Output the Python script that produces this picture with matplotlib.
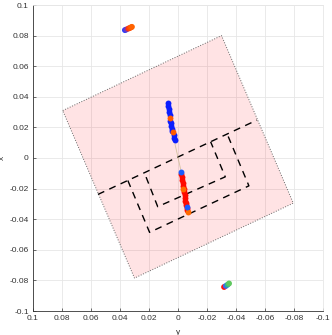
import matplotlib
matplotlib.use("Agg")
import matplotlib.pyplot as plt
from matplotlib.patches import Polygon

plt.rcParams["font.family"] = ["Liberation Sans", "DejaVu Sans"]

# region (y, x) corners of the rotated square
square_y = [0.0795, -0.0300, -0.0795, 0.0300]
square_x = [0.0310, 0.0800, -0.0295, -0.0785]

# dashed guide lines (y, x)
mid_y = [0.0552, -0.0545]
mid_x = [-0.0238, 0.0248]
outer_y = [0.0346, 0.0196, -0.0489, -0.0339]
outer_x = [-0.0147, -0.0486, -0.0182, 0.0157]
inner_y = [0.0220, 0.0140, -0.0326, -0.0225]
inner_x = [-0.0125, -0.0318, -0.0123, 0.0106]

# faint trajectory between the two middle clusters
path_y = [0.0021, -0.0021]
path_x = [0.0092, -0.0085]

# upper middle cluster
up_blue_y = [0.0070, 0.0066, 0.0063, 0.0060, 0.0057, 0.0053, 0.0049, 0.0046,
             0.0042, 0.0039, 0.0031, 0.0027, 0.0023]
up_blue_x = [0.0358, 0.0338, 0.0318, 0.0298, 0.0280, 0.0245, 0.0228, 0.0210,
             0.0190, 0.0175, 0.0148, 0.0132, 0.0118]
up_orange_y = [0.0055, 0.0035]
up_orange_x = [0.0262, 0.0168]

# lower middle cluster
low_red_y = [-0.0024, -0.0027, -0.0030, -0.0033, -0.0036, -0.0039, -0.0042,
             -0.0045, -0.0048, -0.0051, -0.0054, -0.0057, -0.0060, -0.0064]
low_red_x = [-0.0105, -0.0125, -0.0145, -0.0165, -0.0185, -0.0205, -0.0225,
             -0.0245, -0.0262, -0.0280, -0.0295, -0.0310, -0.0325, -0.0340]
low_orange_y = [-0.0034, -0.0069]
low_orange_x = [-0.0203, -0.0352]
low_blue_y = [-0.0021, -0.0062]
low_blue_x = [-0.0094, -0.0322]

# corner clusters
tl_y = [0.0366, 0.0356, 0.0342, 0.0332, 0.0324, 0.0318]
tl_x = [0.0836, 0.0840, 0.0846, 0.0850, 0.0854, 0.0857]
tl_c = ["#2a3cff", "#6a3ac0", "#ff3010", "#ff4a00", "#ff5a00", "#ff6200"]
br_y = [-0.0318, -0.0330, -0.0342, -0.0352]
br_x = [-0.0843, -0.0836, -0.0828, -0.0820]
br_c = ["#ff1010", "#3a6af0", "#30b890", "#60c860"]

ticks = [-0.1, -0.08, -0.06, -0.04, -0.02, 0, 0.02, 0.04, 0.06, 0.08, 0.1]
tick_labels = ["-0.1", "-0.08", "-0.06", "-0.04", "-0.02", "0",
               "0.02", "0.04", "0.06", "0.08", "0.1"]

fig = plt.figure(figsize=(3.32, 3.35), dpi=100)
ax = fig.add_axes([33 / 332, 24 / 335, 290 / 332, 306 / 335])

ax.add_patch(Polygon(list(zip(square_y, square_x)), closed=True,
                     facecolor=(1.0, 0.0, 0.05, 0.11), edgecolor="#666666",
                     linestyle=":", linewidth=0.7, zorder=2))

dash = dict(color="black", linestyle=(0, (5, 4)), linewidth=1.0, zorder=3)
ax.plot(mid_y, mid_x, **dash)
ax.plot(outer_y, outer_x, **dash)
ax.plot(inner_y, inner_x, **dash)

ax.plot(path_y, path_x, color="#c9b98f", linewidth=0.6, alpha=0.8, zorder=3)

ms = 18
ax.scatter(up_blue_y, up_blue_x, s=ms, color="#0a1eff", linewidths=0, zorder=4)
ax.scatter(up_orange_y, up_orange_x, s=ms, color="#ff5a00", linewidths=0, zorder=5)
ax.scatter(low_red_y, low_red_x, s=ms, color="#ff0a00", linewidths=0, zorder=4)
ax.scatter(low_orange_y, low_orange_x, s=ms, color="#ff6a00", linewidths=0, zorder=5)
ax.scatter(low_blue_y, low_blue_x, s=ms, color="#1a5aff", linewidths=0, zorder=5)
ax.scatter(tl_y, tl_x, s=ms, c=tl_c, linewidths=0, zorder=4)
ax.scatter(br_y, br_x, s=ms, c=br_c, linewidths=0, zorder=4)

ax.set_xlim(0.1, -0.1)
ax.set_ylim(-0.1, 0.1)
ax.set_xticks(ticks)
ax.set_xticklabels(tick_labels)
ax.set_yticks(ticks)
ax.set_yticklabels(tick_labels)
ax.grid(True, color="#e6e6e6", linewidth=0.6, zorder=0)
ax.set_axisbelow(True)
ax.tick_params(direction="in", length=2, width=0.5, labelsize=6,
               colors="#333333", pad=3)
for side in ["top", "right"]:
    ax.spines[side].set_color("#e6e6e6")
    ax.spines[side].set_linewidth(0.6)
for side in ["left", "bottom"]:
    ax.spines[side].set_color("#333333")
    ax.spines[side].set_linewidth(0.6)
ax.set_xlabel("y", fontsize=6, color="#333333")
ax.set_ylabel("x", fontsize=6, color="#333333")
ax.xaxis.set_label_coords(0.5, -0.058)
ax.yaxis.set_label_coords(-0.092, 0.5)

fig.savefig("out.png", dpi=100)
